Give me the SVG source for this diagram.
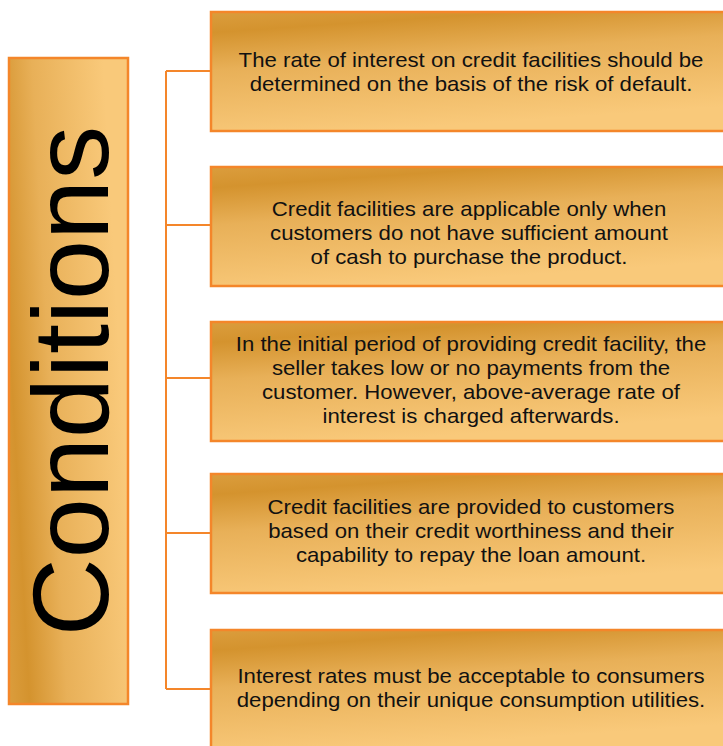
<svg xmlns="http://www.w3.org/2000/svg" width="723" height="746" viewBox="0 0 723 746">
  <defs>
    <linearGradient id="gold" x1="0" y1="0" x2="0.3" y2="1">
      <stop offset="0" stop-color="#DB9D3D"/>
      <stop offset="0.16" stop-color="#D4932E"/>
      <stop offset="0.45" stop-color="#E8B058"/>
      <stop offset="1" stop-color="#F9C97A"/>
    </linearGradient>
    <style>
      .box { fill: url(#gold); stroke: #F4862A; stroke-width: 2.5; }
      .conn { fill: none; stroke: #F4862A; stroke-width: 2; }
      .t { font-family: "Liberation Sans", Arial, sans-serif; font-size: 20px; fill: #111111; text-anchor: middle; }
      .title { font-family: "Liberation Sans", Arial, sans-serif; font-size: 108px; fill: #000000; text-anchor: middle; }
    </style>
  </defs>
  <rect width="723" height="746" fill="#FFFFFF"/>

  <g id="connectors">
    <path class="conn" d="M166 71 V689 M166 71 H211 M166 225 H211 M166 378 H211 M166 533 H211 M166 689 H211"/>
  </g>

  <g id="conditions">
    <rect class="box" x="0" y="0" width="646" height="119" transform="translate(9 704) rotate(-90)"/>
    <text class="title" transform="translate(107.5 381) rotate(-90)" x="0" y="0">Conditions</text>
  </g>

  <g id="node1">
    <rect class="box" x="211" y="12" width="520" height="119"/>
    <g transform="translate(471 0) scale(1.11 1)">
      <text class="t" x="0" y="67">The rate of interest on credit facilities should be</text>
      <text class="t" x="0" y="91">determined on the basis of the risk of default.</text>
    </g>
  </g>

  <g id="node2">
    <rect class="box" x="211" y="167" width="520" height="119"/>
    <g transform="translate(469 0) scale(1.11 1)">
      <text class="t" x="0" y="216">Credit facilities are applicable only when</text>
      <text class="t" x="0" y="240">customers do not have sufficient amount</text>
      <text class="t" x="0" y="264">of cash to purchase the product.</text>
    </g>
  </g>

  <g id="node3">
    <rect class="box" x="211" y="322" width="520" height="119"/>
    <g transform="translate(471 0) scale(1.11 1)">
      <text class="t" x="0" y="351">In the initial period of providing credit facility, the</text>
      <text class="t" x="0" y="375">seller takes low or no payments from the</text>
      <text class="t" x="0" y="399">customer. However, above-average rate of</text>
      <text class="t" x="0" y="423">interest is charged afterwards.</text>
    </g>
  </g>

  <g id="node4">
    <rect class="box" x="211" y="474" width="520" height="119"/>
    <g transform="translate(471 0) scale(1.11 1)">
      <text class="t" x="0" y="514">Credit facilities are provided to customers</text>
      <text class="t" x="0" y="538">based on their credit worthiness and their</text>
      <text class="t" x="0" y="562">capability to repay the loan amount.</text>
    </g>
  </g>

  <g id="node5">
    <rect class="box" x="211" y="630" width="520" height="119"/>
    <g transform="translate(471 0) scale(1.11 1)">
      <text class="t" x="0" y="683">Interest rates must be acceptable to consumers</text>
      <text class="t" x="0" y="707">depending on their unique consumption utilities.</text>
    </g>
  </g>
</svg>
